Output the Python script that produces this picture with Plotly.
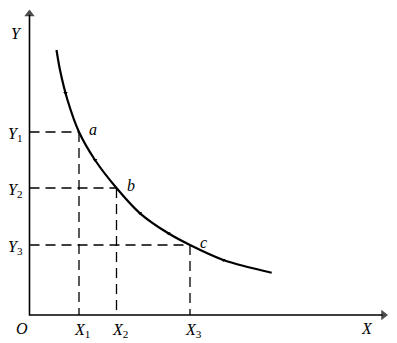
import plotly.graph_objects as go

# Curve points (origin at the axes crossing)
curve_x = [27, 30.5, 38, 49.5, 65.5, 87, 110.5, 138.8, 160.5, 193.8, 217.2, 242.2]
curve_y = [265, 245, 215, 183, 155, 127, 101.7, 81.7, 70, 55, 48.3, 42.3]

# Marked points a, b, c
pt_names = ["a", "b", "c"]
pt_x = [49.5, 87, 160.5]
pt_y = [183, 127, 70]
x_tick_base = ["X", "X", "X"]
x_tick_sub = ["1", "2", "3"]
y_tick_base = ["Y", "Y", "Y"]
y_tick_sub = ["1", "2", "3"]

# Small arrow marks along the curve
barb_x = [36, 65.5, 110.5, 138.8, 193.8]
barb_y = [222, 155, 101.7, 81.7, 55]

# Axis extents
x_axis_end = 359
y_axis_end = 306

FONT = "Liberation Serif"
fig = go.Figure()

# Dashed guide lines
for px, py in zip(pt_x, pt_y):
    fig.add_trace(go.Scatter(x=[0, px], y=[py, py], mode="lines",
                             line=dict(color="black", width=1.3, dash="10px,6px"),
                             hoverinfo="skip", showlegend=False))
    fig.add_trace(go.Scatter(x=[px, px], y=[py, 0], mode="lines",
                             line=dict(color="black", width=1.3, dash="10px,6px"),
                             hoverinfo="skip", showlegend=False))

# Curve
fig.add_trace(go.Scatter(x=curve_x, y=curve_y, mode="lines",
                         line=dict(color="black", width=2.2, shape="spline", smoothing=0.8),
                         hoverinfo="skip", showlegend=False))

# Arrow barbs along the curve
fig.add_trace(go.Scatter(x=barb_x, y=barb_y, mode="markers",
                         marker=dict(symbol="triangle-down", size=4, color="black"),
                         hoverinfo="skip", showlegend=False))

# Axes
fig.add_trace(go.Scatter(x=[0, 0, x_axis_end - 6], y=[y_axis_end - 6, 0, 0], mode="lines",
                         line=dict(color="black", width=1.6),
                         hoverinfo="skip", showlegend=False))
fig.add_trace(go.Scatter(x=[0], y=[y_axis_end - 5], mode="markers",
                         marker=dict(symbol="triangle-up", size=[9], color="black",
                                     line=dict(width=0)),
                         hoverinfo="skip", showlegend=False))
fig.add_trace(go.Scatter(x=[x_axis_end - 5], y=[0], mode="markers",
                         marker=dict(symbol="triangle-right", size=[9], color="black",
                                     line=dict(width=0)),
                         hoverinfo="skip", showlegend=False))

lab_font = dict(family=FONT, size=16, color="black")

def label(x, y, text, xanchor="center", yanchor="middle"):
    fig.add_annotation(x=x, y=y, xref="x", yref="y", text=text, showarrow=False,
                       font=lab_font, xanchor=xanchor, yanchor=yanchor)

label(-13.5, 282, "<i>Y</i>")
label(-7.5, -13, "<i>O</i>")
label(337.5, -13, "<i>X</i>")
for px, b, s in zip(pt_x, x_tick_base, x_tick_sub):
    label(px + 3, -15, "<i>" + b + "</i><sub>" + s + "</sub>")
for py, b, s in zip(pt_y, y_tick_base, y_tick_sub):
    label(-5, py - 2, "<i>" + b + "</i><sub>" + s + "</sub>", xanchor="right")
for n, px, py in zip(pt_names, pt_x, pt_y):
    label(px + 8, py + 3, "<i>" + n + "</i>", xanchor="left")

fig.update_layout(
    width=397, height=343,
    margin=dict(l=0, r=0, t=0, b=0),
    paper_bgcolor="white", plot_bgcolor="white",
    xaxis=dict(range=[-29.5, 367.5], visible=False, fixedrange=True),
    yaxis=dict(range=[-28, 315], visible=False, fixedrange=True),
    showlegend=False,
)

fig.write_html("out.html")
